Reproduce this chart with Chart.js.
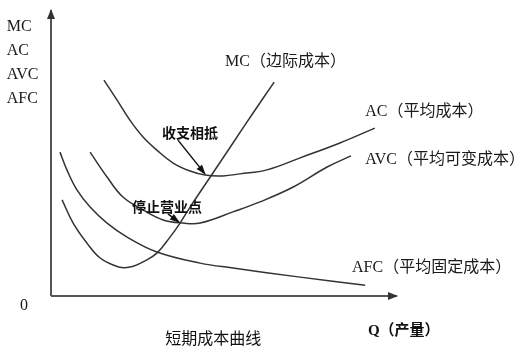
<!DOCTYPE html>
<html>
<head>
<meta charset="utf-8">
<script src="https://cdn.jsdelivr.net/npm/chart.js@4"></script>
<style>
html,body{margin:0;padding:0;background:#fff;}
#wrap{width:525px;height:358px;position:relative;}
</style>
</head>
<body>
<div id="wrap"><canvas id="c" width="525" height="358"></canvas></div>
<script>
// ---- Data (Q on x, cost on y; arbitrary units 0..100) ----
const mcQ   = [3.2, 6.4, 10.4, 14.2, 18.5, 21.1, 23.8, 26.6, 30.6, 34.4, 37.3, 40.2, 46.8, 52.6, 58.4, 64.5];
const mcC   = [33.6, 25.5, 18.5, 13.3, 10.6, 9.9, 10.4, 11.9, 15.0, 20.6, 25.5, 31.1, 43.0, 53.5, 64.0, 74.8];
const acQ   = [15.3, 19.1, 22.8, 26.6, 30.6, 35.3, 40.2, 44.5, 49.7, 54.6, 62.4, 72.0, 83.5, 93.6];
const acC   = [75.5, 68.5, 61.5, 55.6, 51.0, 46.5, 43.7, 42.3, 42.0, 42.7, 44.1, 48.3, 53.5, 58.7];
const avcQ  = [11.3, 16.2, 20.8, 26.6, 32.4, 38.2, 43.1, 52.6, 60.4, 70.0, 79.8, 86.7];
const avcC  = [50.3, 41.6, 34.6, 30.1, 26.6, 25.5, 25.5, 29.4, 32.9, 38.1, 45.1, 49.0];
const afcQ  = [2.6, 4.6, 7.5, 11.3, 16.2, 22.0, 30.6, 43.1, 52.6, 72.0, 90.8];
const afcC  = [50.3, 44.1, 37.1, 31.1, 25.5, 20.6, 15.4, 11.5, 9.8, 6.6, 3.8];
// annotation arrows: [from, to]
const breakEvenArrowQ = [36.7, 44.5];
const breakEvenArrowC = [54.5, 42.7];
const shutdownArrowQ  = [33.8, 37.0];
const shutdownArrowC  = [28.7, 25.8];
// axes
const axisYQ = [0, 0];   const axisYC = [0, 100];
const axisXQ = [0, 100]; const axisXC = [0, 0];
// texts
const yAxisLabels = ['MC', 'AC', 'AVC', 'AFC'];
const curveLabels = ['MC（边际成本）', 'AC（平均成本）', 'AVC（平均可变成本）', 'AFC（平均固定成本）'];
const pointLabels = ['收支相抵', '停止营业点'];
const originLabel = '0';
const xAxisLabel = 'Q（产量）';
const chartTitle = '短期成本曲线';

const pts = (xs, ys) => xs.map((v, i) => ({x: v, y: ys[i]}));

const curveStyle = {showLine: true, pointRadius: 0, borderColor: '#333', borderWidth: 1.5,
  tension: 0.4, fill: false, clip: false};

const datasets = [
  {...curveStyle, label: 'MC', data: pts(mcQ, mcC)},
  {...curveStyle, label: 'AC', data: pts(acQ, acC)},
  {...curveStyle, label: 'AVC', data: pts(avcQ, avcC)},
  {...curveStyle, label: 'AFC', data: pts(afcQ, afcC)},
  {showLine: true, pointRadius: 0, borderColor: '#111', borderWidth: 1.5, clip: false,
   label: 'be', data: pts(breakEvenArrowQ, breakEvenArrowC), arrow: {len: 9, half: 3.5, color: '#111'}},
  {showLine: true, pointRadius: 0, borderColor: '#111', borderWidth: 1.5, clip: false,
   label: 'sd', data: pts(shutdownArrowQ, shutdownArrowC), arrow: {len: 9, half: 3.5, color: '#111'}},
  {showLine: true, pointRadius: 0, borderColor: '#555', borderWidth: 2, clip: false,
   label: 'ay', data: pts(axisYQ, axisYC), arrow: {len: 9, half: 4, color: '#333'}},
  {showLine: true, pointRadius: 0, borderColor: '#555', borderWidth: 2, clip: false,
   label: 'ax', data: pts(axisXQ, axisXC), arrow: {len: 9, half: 4, color: '#333'}},
];

const SERIF = '"Liberation Serif", "Noto Sans CJK SC", serif';
const SANS = '"Noto Sans CJK SC", sans-serif';

const decorPlugin = {
  id: 'decor',
  afterDatasetsDraw(chart) {
    const ctx = chart.ctx;
    const xs = chart.scales.x, ys = chart.scales.y;
    ctx.save();
    // arrowheads
    chart.data.datasets.forEach((ds, i) => {
      if (!ds.arrow) return;
      const meta = chart.getDatasetMeta(i);
      const n = meta.data.length;
      const a = meta.data[n - 2], b = meta.data[n - 1];
      const ang = Math.atan2(b.y - a.y, b.x - a.x);
      const {len, half, color} = ds.arrow;
      ctx.fillStyle = color;
      ctx.beginPath();
      ctx.moveTo(b.x + Math.cos(ang) * 1, b.y + Math.sin(ang) * 1);
      ctx.lineTo(b.x - Math.cos(ang) * len - Math.sin(ang) * half, b.y - Math.sin(ang) * len + Math.cos(ang) * half);
      ctx.lineTo(b.x - Math.cos(ang) * len + Math.sin(ang) * half, b.y - Math.sin(ang) * len - Math.cos(ang) * half);
      ctx.closePath();
      ctx.fill();
    });
    ctx.textBaseline = 'middle';
    ctx.textAlign = 'left';
    // y-axis stacked labels (left of axis)
    ctx.fillStyle = '#1a1a1a';
    ctx.font = '16px ' + SERIF;
    const yLabPos = [[-12.8, 94.2], [-12.8, 85.7], [-12.8, 77.3], [-12.8, 69.0]];
    yAxisLabels.forEach((t, i) => ctx.fillText(t, xs.getPixelForValue(yLabPos[i][0]), ys.getPixelForValue(yLabPos[i][1])));
    // curve labels
    const curvePos = [[50.3, 81.8], [90.8, 64.3], [90.8, 47.6], [87.0, 9.8]];
    curveLabels.forEach((t, i) => ctx.fillText(t, xs.getPixelForValue(curvePos[i][0]), ys.getPixelForValue(curvePos[i][1])));
    // origin
    ctx.textAlign = 'center';
    ctx.fillText(originLabel, xs.getPixelForValue(-7.8), ys.getPixelForValue(-3.3));
    // point labels (bold)
    ctx.textAlign = 'left';
    ctx.fillStyle = '#111';
    ctx.font = 'bold 14px ' + SANS;
    const ptPos = [[32.1, 57.0], [23.4, 31.1]];
    pointLabels.forEach((t, i) => ctx.fillText(t, xs.getPixelForValue(ptPos[i][0]), ys.getPixelForValue(ptPos[i][1])));
    // x-axis label
    ctx.font = 'bold 15px ' + SERIF;
    ctx.fillStyle = '#111';
    ctx.fillText(xAxisLabel, xs.getPixelForValue(91.6), ys.getPixelForValue(-12.2));
    // caption
    ctx.font = '16px ' + SANS;
    ctx.fillStyle = '#111';
    ctx.fillText(chartTitle, xs.getPixelForValue(33.0), ys.getPixelForValue(-14.7));
    ctx.restore();
  }
};

new Chart(document.getElementById('c'), {
  type: 'scatter',
  data: {datasets},
  options: {
    responsive: false,
    devicePixelRatio: 1,
    animation: false,
    layout: {padding: {left: 51, right: 128, top: 10, bottom: 62}},
    plugins: {legend: {display: false}, tooltip: {enabled: false}},
    scales: {
      x: {type: 'linear', min: 0, max: 100, display: false},
      y: {type: 'linear', min: 0, max: 100, display: false}
    }
  },
  plugins: [decorPlugin]
});
</script>
</body>
</html>
